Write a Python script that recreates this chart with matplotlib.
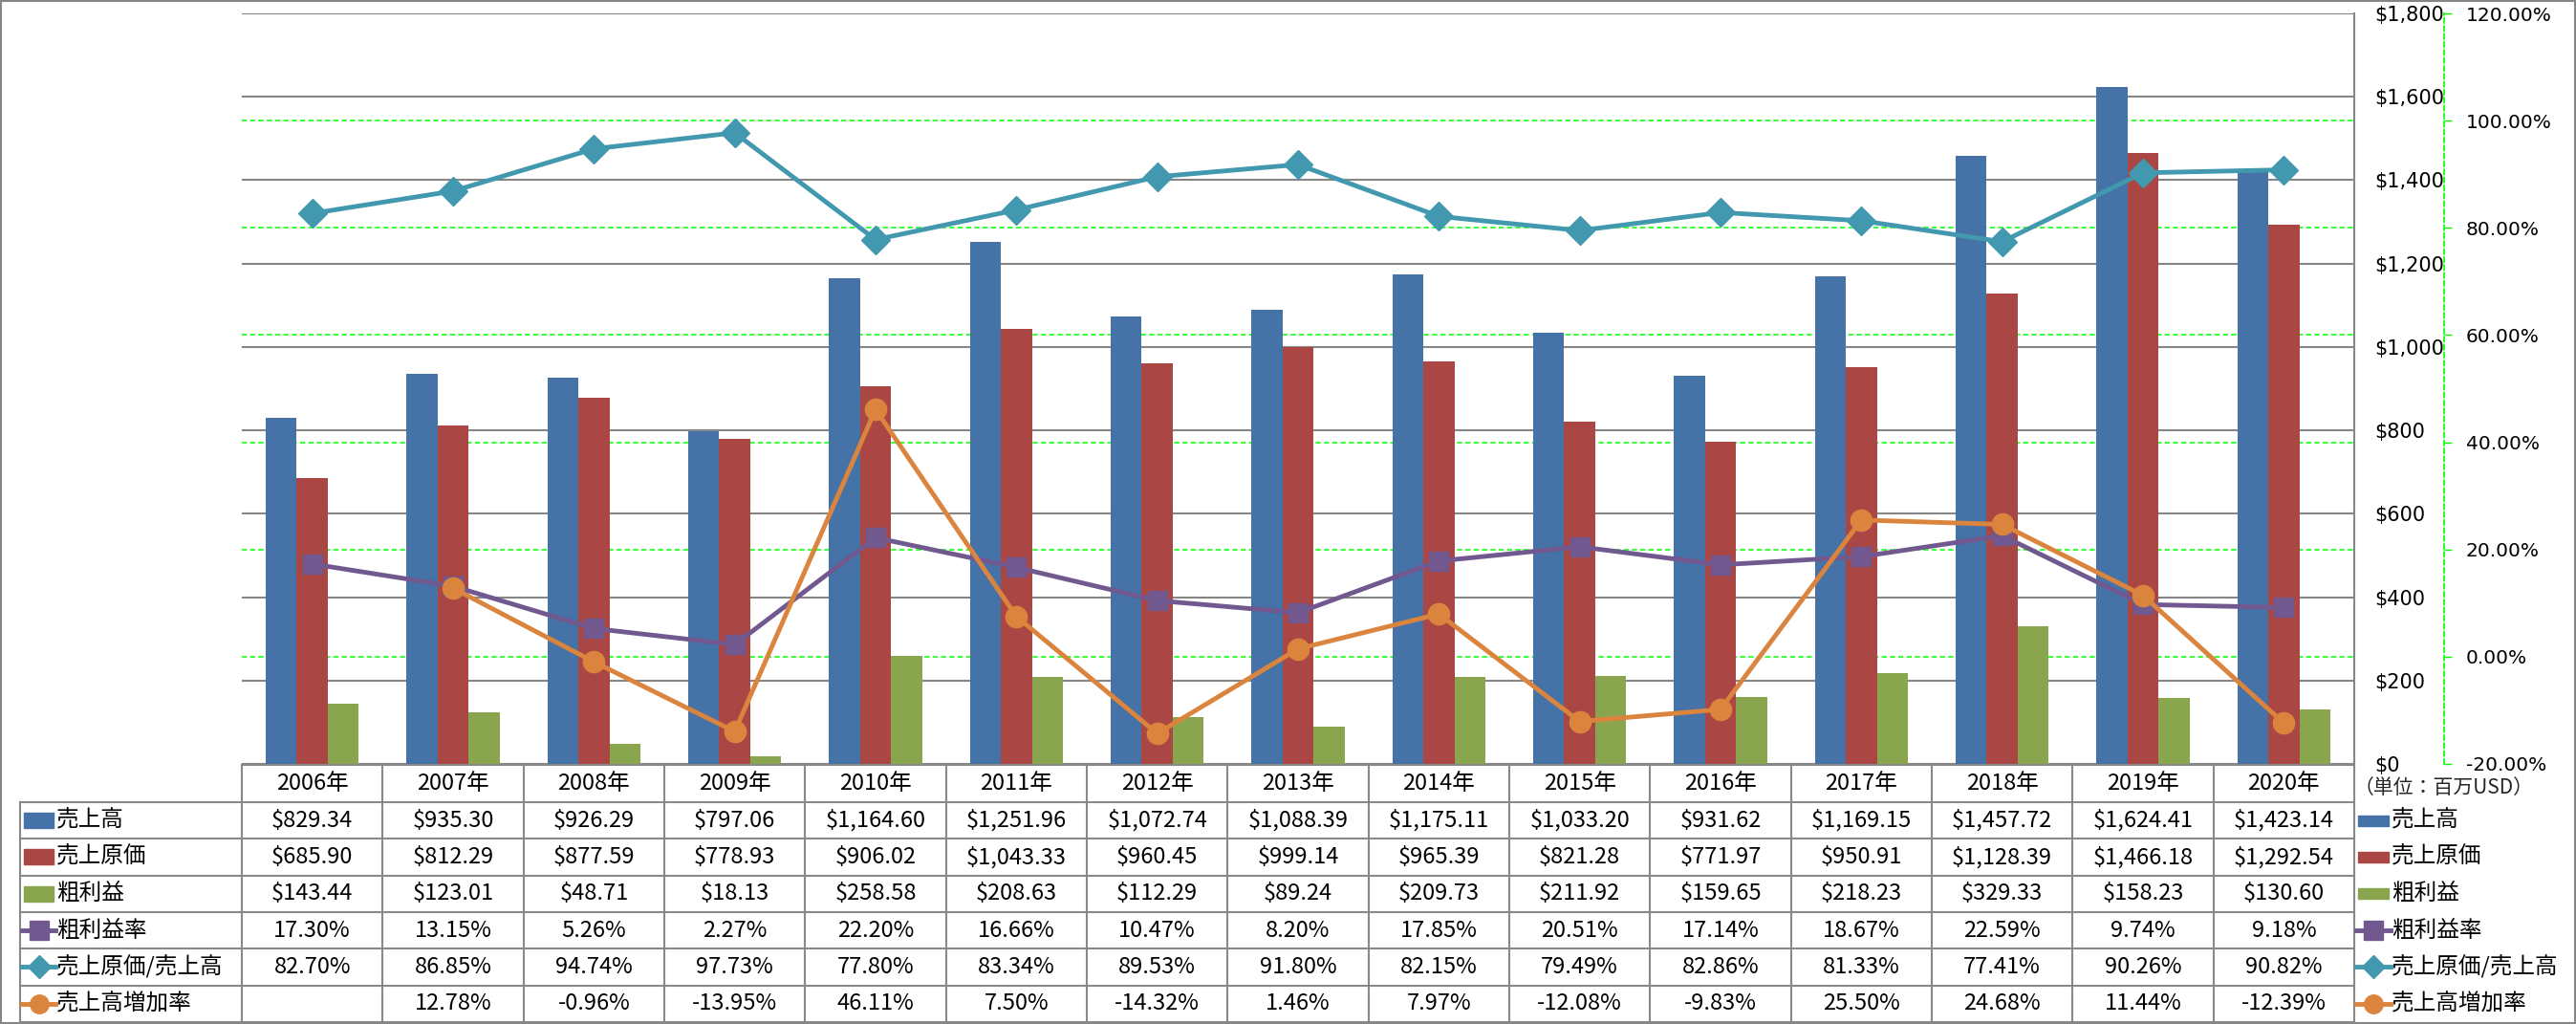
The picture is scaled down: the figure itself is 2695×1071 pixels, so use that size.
import matplotlib
matplotlib.use("Agg")
import matplotlib.pyplot as plt
import numpy as np
from matplotlib.lines import Line2D
from matplotlib.patches import Rectangle
from matplotlib.transforms import blended_transform_factory

plt.rcParams['font.family'] = ['DejaVu Sans', 'Noto Sans CJK JP']

# data (million USD)
years = ['2006年', '2007年', '2008年', '2009年', '2010年', '2011年', '2012年', '2013年',
         '2014年', '2015年', '2016年', '2017年', '2018年', '2019年', '2020年']
sales = [829.34, 935.30, 926.29, 797.06, 1164.60, 1251.96, 1072.74, 1088.39,
         1175.11, 1033.20, 931.62, 1169.15, 1457.72, 1624.41, 1423.14]
cogs = [685.90, 812.29, 877.59, 778.93, 906.02, 1043.33, 960.45, 999.14,
        965.39, 821.28, 771.97, 950.91, 1128.39, 1466.18, 1292.54]
gross = [143.44, 123.01, 48.71, 18.13, 258.58, 208.63, 112.29, 89.24,
         209.73, 211.92, 159.65, 218.23, 329.33, 158.23, 130.60]
margin = [17.30, 13.15, 5.26, 2.27, 22.20, 16.66, 10.47, 8.20,
          17.85, 20.51, 17.14, 18.67, 22.59, 9.74, 9.18]
cost_ratio = [82.70, 86.85, 94.74, 97.73, 77.80, 83.34, 89.53, 91.80,
              82.15, 79.49, 82.86, 81.33, 77.41, 90.26, 90.82]
growth = [np.nan, 12.78, -0.96, -13.95, 46.11, 7.50, -14.32, 1.46,
          7.97, -12.08, -9.83, 25.50, 24.68, 11.44, -12.39]

names = ['売上高', '売上原価', '粗利益', '粗利益率', '売上原価/売上高', '売上高増加率']
colors = ['#4572A7', '#AA4643', '#89A54E', '#71588F', '#4198AF', '#DB843D']
usd_ticks = list(range(0, 1801, 200))
pct_ticks = list(range(-20, 121, 20))

W, H = 2695, 1071
fig = plt.figure(figsize=(W / 100, H / 100), dpi=100)

L, R, T, B = 253, 2463, 14, 799
rect = [L / W, 1 - B / H, (R - L) / W, (B - T) / H]

# green grid of the percent axis (behind the bars)
axg = fig.add_axes(rect, zorder=0)
# bars
ax = fig.add_axes(rect, zorder=1)
# lines
ax2 = fig.add_axes(rect, zorder=2, sharex=ax)

x = np.arange(len(years))
ax.set_xlim(-0.5, len(years) - 0.5)

axg.set_xlim(ax.get_xlim())
axg.set_ylim(-20, 120)
axg.set_yticks(pct_ticks)
axg.yaxis.grid(True, color='#00ff00', lw=1.1, linestyle=(0, (3.5, 2.2)))
axg.tick_params(left=False, bottom=False, labelleft=False, labelbottom=False)
for s in axg.spines.values():
    s.set_visible(False)

bw = 0.22
ax.bar(x - bw, sales, bw, color=colors[0], zorder=2)
ax.bar(x, cogs, bw, color=colors[1], zorder=2)
ax.bar(x + bw, gross, bw, color=colors[2], zorder=2)
ax.set_ylim(0, 1800)
ax.set_yticks(usd_ticks)
ax.set_yticklabels(['$' + format(v, ',') for v in usd_ticks])
ax.yaxis.tick_right()
ax.tick_params(axis='y', length=0, pad=15.5, labelsize=15)
ax.tick_params(axis='x', bottom=False, labelbottom=False)
ax.yaxis.grid(True, color='#868686', lw=1.5)
ax.set_axisbelow(True)
ax.patch.set_visible(False)
for k in ['left', 'top', 'bottom']:
    ax.spines[k].set_visible(False)
ax.spines['right'].set_color('#868686')
ax.spines['right'].set_linewidth(1.5)

ax2.plot(x, margin, color=colors[3], lw=3.5, marker='s', ms=15, zorder=3)
ax2.plot(x, cost_ratio, color=colors[4], lw=3.5, marker='D', ms=15, zorder=3)
ax2.plot(x, growth, color=colors[5], lw=3.5, marker='o', ms=16, zorder=4)
ax2.set_ylim(-20, 120)
ax2.set_yticks(pct_ticks)
ax2.set_yticklabels(['%.2f%%' % v for v in pct_ticks])
ax2.get_yticklabels()[0].set_color('red')
ax2.yaxis.tick_right()
ax2.tick_params(axis='y', direction='out', length=6, width=1, color='#00ff00',
                pad=10.5, labelsize=14.5)
ax2.tick_params(axis='x', bottom=False, labelbottom=False)
ax2.patch.set_visible(False)
for k in ['left', 'top', 'bottom']:
    ax2.spines[k].set_visible(False)
ax2.spines['right'].set_position(('axes', (2557 - L) / (R - L)))
ax2.spines['right'].set_color('#00ff00')
ax2.spines['right'].set_linestyle((0, (3, 2)))
ax2.spines['right'].set_linewidth(1.2)

# data table below the chart
tab = fig.add_axes([0, 0, 1, 1], zorder=-1)
tab.set_xlim(0, W)
tab.set_ylim(H, 0)
tab.axis('off')
tr = blended_transform_factory(ax.transData, tab.transData)
gc = '#898989'
tf = ['Noto Sans CJK JP', 'DejaVu Sans']
fs = 17

top, hdr, rh = 800, 839, 38.3
bottom = hdr + 6 * rh
tab.plot([L, R], [top, top], color=gc, lw=1.5)
for k in range(7):
    yy = hdr + k * rh
    tab.plot([21, R], [yy, yy], color=gc, lw=1.5)
tab.plot([21, 21], [hdr, bottom], color=gc, lw=1.5)
tab.plot([L, L], [top, bottom], color=gc, lw=1.5)
tab.plot([R, R], [top, bottom], color=gc, lw=1.5)
for i in x[:-1]:
    tab.plot([i + 0.5, i + 0.5], [top, bottom], color=gc, lw=1.5, transform=tr)

for i, yr in enumerate(years):
    tab.text(i, (top + hdr) / 2, yr, transform=tr, ha='center', va='center',
             fontsize=fs, family=tf)

rows = [
    ['$' + format(v, ',.2f') for v in sales],
    ['$' + format(v, ',.2f') for v in cogs],
    ['$' + format(v, ',.2f') for v in gross],
    ['%.2f%%' % v for v in margin],
    ['%.2f%%' % v for v in cost_ratio],
    ['' if np.isnan(v) else '%.2f%%' % v for v in growth],
]
markers = [None, None, None, 's', 'D', 'o']
msizes = [0, 0, 0, 14, 12, 14]
for r, vals in enumerate(rows):
    yc = hdr + (r + 0.5) * rh
    for i, s in enumerate(vals):
        tab.text(i, yc, s, transform=tr, ha='center', va='center', fontsize=fs, family=tf)
    # legend keys in the table and on the right side
    for (x0, x1, ph, xt) in [(25, 56, 16, 59), (2467, 2499, 11, 2502)]:
        if markers[r] is None:
            tab.add_patch(Rectangle((x0, yc - ph / 2), x1 - x0, ph, color=colors[r]))
        else:
            tab.add_line(Line2D([x0 - 2, x1 + 2], [yc, yc], color=colors[r], lw=3.5))
            tab.add_line(Line2D([(x0 + x1) / 2], [yc], color=colors[r],
                                marker=markers[r], ms=msizes[r]))
        tab.text(xt, yc, names[r], ha='left', va='center', fontsize=fs, family=tf)

tab.text(2557, 824, '（単位：百万USD）', ha='center', va='center', fontsize=15,
         color='#262626', family=tf)

tab.add_patch(Rectangle((1, 1), W - 2, H - 2, fill=False, ec='#868686', lw=1.5))

fig.savefig('out.png', dpi=100)
